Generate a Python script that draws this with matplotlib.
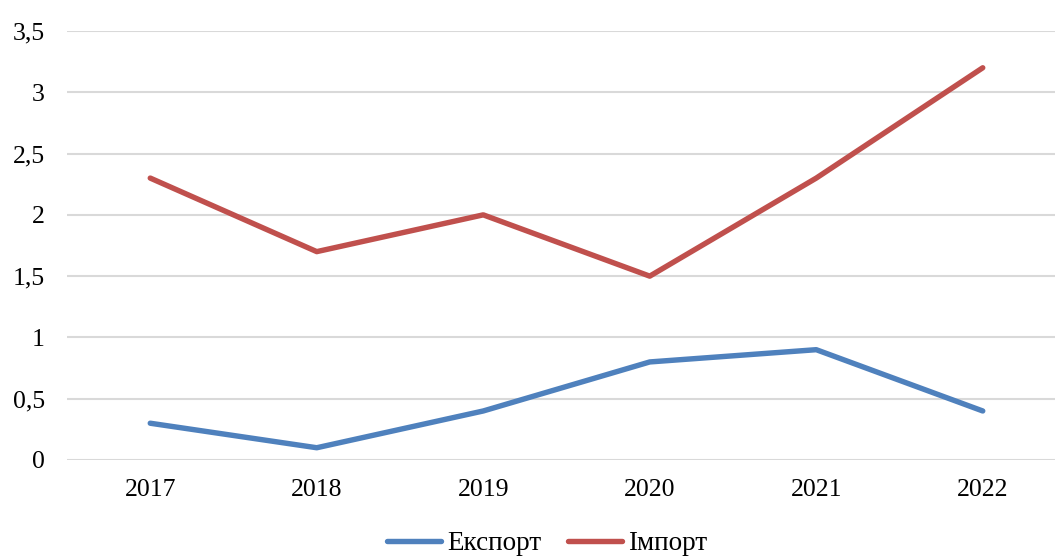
import matplotlib
matplotlib.use("Agg")
import matplotlib.pyplot as plt
from matplotlib.ticker import FuncFormatter

years = ["2017", "2018", "2019", "2020", "2021", "2022"]
export_vals = [0.3, 0.1, 0.4, 0.8, 0.9, 0.4]
import_vals = [2.3, 1.7, 2.0, 1.5, 2.3, 3.2]
y_ticks = [0, 0.5, 1, 1.5, 2, 2.5, 3, 3.5]

plt.rcParams["font.family"] = ["Liberation Serif", "DejaVu Serif"]
plt.rcParams["font.size"] = 18.5

W, H = 1055, 558
fig = plt.figure(figsize=(W / 100, H / 100), dpi=100)
# plot area (in pixels): x 67..1066, y 31..460 -- right edge runs past the figure
ax = fig.add_axes([67 / W, (H - 460) / H, 999 / W, 429 / H])

x = range(len(years))
ax.plot(x, export_vals, color="#4F81BD", lw=3.9, solid_capstyle="round",
        solid_joinstyle="round", label="Експорт")
ax.plot(x, import_vals, color="#C0504D", lw=3.9, solid_capstyle="round",
        solid_joinstyle="round", label="Імпорт")

ax.set_xlim(-0.5, len(years) - 0.5)
ax.set_ylim(0, 3.5)
ax.set_xticks(list(x))
ax.set_xticklabels(years)
ax.set_yticks(y_ticks)
ax.yaxis.set_major_formatter(FuncFormatter(lambda v, p: f"{v:g}".replace(".", ",")))

ax.grid(axis="y", color="#D9D9D9", lw=1.5)
ax.set_axisbelow(True)
for s in ax.spines.values():
    s.set_visible(False)
ax.tick_params(length=0)
ax.tick_params(axis="y", pad=16)
ax.tick_params(axis="x", pad=14)

# legend sits low, almost at the bottom edge, a little right of centre
fig.legend(loc="center", bbox_to_anchor=(547 / W, (H - 544) / H), ncol=2, frameon=False,
           fontsize=19.5, handlelength=2.0, handletextpad=0.2, columnspacing=1.0,
           borderaxespad=0, borderpad=0)

fig.savefig("out.png", dpi=100)
